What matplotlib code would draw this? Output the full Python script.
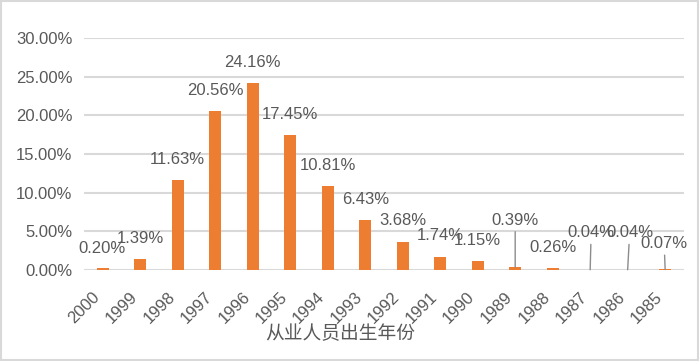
import matplotlib
matplotlib.use("Agg")
import matplotlib.pyplot as plt
from matplotlib.patches import Rectangle
import numpy as np

years = ["2000", "1999", "1998", "1997", "1996", "1995", "1994", "1993",
         "1992", "1991", "1990", "1989", "1988", "1987", "1986", "1985"]
shares = [0.20, 1.39, 11.63, 20.56, 24.16, 17.45, 10.81, 6.43,
          3.68, 1.74, 1.15, 0.39, 0.26, 0.04, 0.04, 0.07]
yticks = [0, 5, 10, 15, 20, 25, 30]
xlabel = "从业人员出生年份"

BAR = "#ED7D31"
TXT = "#595959"
GRID = "#D9D9D9"
NUMFONT = ["Liberation Sans", "DejaVu Sans"]
FS = 12

# label offsets in pixels (dx, dy) from bar top; leader = draw a line back to bar
default_off = (0, 21)
label_off = {
    "2000": (-1, 20),
    "1989": (0, 47),
    "1987": (1, 37),
    "1986": (2, 37),
    "1985": (-1, 26),
}
leaders = {"1989", "1987", "1986", "1985"}

fig = plt.figure(figsize=(7, 3.61), dpi=100)
ax = fig.add_axes([0.12, 0.252, 0.857, 0.6427])

x = np.arange(len(years))
ax.bar(x, shares, width=0.32, color=BAR, zorder=3)

ax.set_xlim(-0.5, len(years) - 0.5)
ax.set_ylim(0, 30)
ax.set_yticks(yticks)
ax.set_yticklabels([f"{v:.2f}%" for v in yticks], family=NUMFONT,
                   fontsize=FS, color=TXT)
ax.set_xticks(x)
ax.set_xticklabels(years, rotation=45, ha="right", family=NUMFONT,
                   fontsize=FS, color=TXT)
ax.tick_params(axis="both", length=0)
ax.tick_params(axis="x", pad=14)
ax.tick_params(axis="y", pad=8.5)
ax.grid(axis="y", color=GRID, lw=1.5, zorder=0)
ax.set_axisbelow(True)
for sp in ax.spines.values():
    sp.set_visible(False)

for xi, yr, v in zip(x, years, shares):
    dx, dy = label_off.get(yr, default_off)
    kw = {}
    if yr in leaders:
        kw["arrowprops"] = dict(arrowstyle="-", color="#8c8c8c", lw=1,
                                shrinkA=1, shrinkB=0)
    ax.annotate(f"{v:.2f}%", (xi, v), xytext=(dx, dy),
                textcoords="offset pixels", ha="center", va="center",
                family=NUMFONT, fontsize=FS, color=TXT, zorder=4, **kw)

ax.set_xlabel(xlabel, family=["Noto Sans CJK SC", "DejaVu Sans"],
              fontsize=13.5, color=TXT)
ax.xaxis.set_label_coords(0.427, -0.228)

fig.patches.append(Rectangle((0.002, 0.003), 0.995, 0.993,
                             transform=fig.transFigure, fill=False,
                             ec=GRID, lw=1.5))

fig.savefig("out.png", dpi=100, facecolor="white")
